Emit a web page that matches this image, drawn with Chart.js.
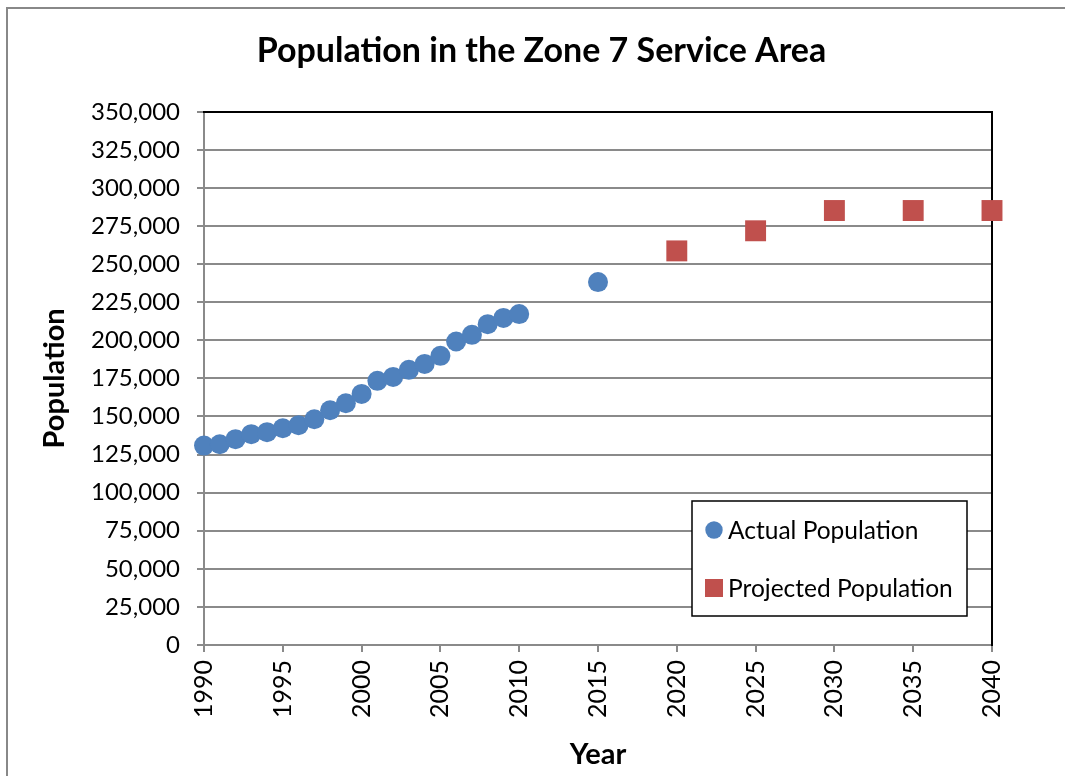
<!DOCTYPE html>
<html>
<head>
<meta charset="utf-8">
<script src="https://cdn.jsdelivr.net/npm/chart.js@4/dist/chart.umd.min.js"></script>
<style>
  html, body { margin: 0; padding: 0; background: #fff; overflow: hidden; }
  #wrap { position: relative; width: 1065px; height: 776px; }
</style>
</head>
<body>
<div id="wrap"><canvas id="popChart" width="1065" height="776"></canvas></div>
<script>
// Population values
const actualYears = [1990, 1991, 1992, 1993, 1994, 1995, 1996, 1997, 1998, 1999, 2000,
                     2001, 2002, 2003, 2004, 2005, 2006, 2007, 2008, 2009, 2010, 2015];
const actualPop = [130900, 131800, 135100, 138400, 139700, 142300, 144300, 148200, 154100, 158700, 164800,
                   173400, 176000, 180600, 184500, 189800, 199200, 203600, 210600, 214700, 217200, 238200];
const projectedYears = [2020, 2025, 2030, 2035, 2040];
const projectedPop = [258700, 271900, 285200, 285200, 285200];

const seriesNames = ['Actual Population', 'Projected Population'];
const BLUE = '#4F81BD';
const RED = '#C0504D';
const GRID = '#8a8a8a';
const FONT = 'Lato, "Open Sans", sans-serif';

const toPoints = (xs, ys) => xs.map((x, i) => ({ x: x, y: ys[i] }));

// gray frame around the whole chart
const framePlugin = {
    id: 'frame',
    beforeDraw(chart) {
        const ctx = chart.ctx;
        ctx.save();
        ctx.strokeStyle = '#888';
        ctx.lineWidth = 2;
        ctx.strokeRect(7, 8, 1100, 800);
        ctx.restore();
    }
};

// boxed legend sitting inside the plot area, bottom right
const boxLegend = {
    id: 'boxLegend',
    afterDraw(chart) {
        const ctx = chart.ctx;
        const x0 = 692, y0 = 501, w = 275, h = 115;
        ctx.save();
        ctx.fillStyle = '#fff';
        ctx.fillRect(x0, y0, w, h);
        ctx.strokeStyle = '#000';
        ctx.lineWidth = 1.5;
        ctx.strokeRect(x0, y0, w, h);
        ctx.font = '24.5px ' + FONT;
        ctx.textBaseline = 'middle';
        chart.data.datasets.forEach((ds, i) => {
            const cy = y0 + 29 + i * 58;
            ctx.fillStyle = ds.backgroundColor;
            if (ds.pointStyle === 'rect') {
                ctx.fillRect(x0 + 13, cy - 9, 18, 18);
            } else {
                ctx.beginPath();
                ctx.arc(x0 + 22, cy, 8.7, 0, Math.PI * 2);
                ctx.fill();
            }
            ctx.fillStyle = '#000';
            ctx.fillText(ds.label, x0 + 36, cy + 1);
        });
        ctx.restore();
    }
};

const ctx = document.getElementById('popChart').getContext('2d');
new Chart(ctx, {
    type: 'scatter',
    data: {
        datasets: [{
            label: seriesNames[0],
            data: toPoints(actualYears, actualPop),
            pointStyle: 'circle',
            pointRadius: 10,
            pointHoverRadius: 10,
            backgroundColor: BLUE,
            borderColor: BLUE,
            borderWidth: 0,
            clip: false
        }, {
            label: seriesNames[1],
            data: toPoints(projectedYears, projectedPop),
            pointStyle: 'rect',
            pointRadius: 14.8,
            pointHoverRadius: 14.8,
            backgroundColor: RED,
            borderColor: RED,
            borderWidth: 0,
            clip: false
        }]
    },
    options: {
        responsive: false,
        animation: false,
        devicePixelRatio: 1,
        layout: { padding: { left: 20, right: 2, top: 0, bottom: 0 } },
        plugins: {
            legend: { display: false },
            tooltip: { enabled: false },
            title: {
                display: true,
                text: 'Population in the Zone 7 Service Area',
                color: '#000',
                font: { family: FONT, size: 34, weight: 'bold' },
                padding: { top: 31, bottom: 40 }
            }
        },
        scales: {
            x: {
                type: 'linear',
                position: 'bottom',
                min: 1990,
                max: 2040,
                afterFit: s => { s.height = 131; },
                border: { color: GRID, width: 2 },
                grid: { drawOnChartArea: false, drawTicks: true, tickLength: 7, color: GRID, lineWidth: 2 },
                ticks: {
                    stepSize: 5,
                    minRotation: 90,
                    maxRotation: 90,
                    padding: 8,
                    color: '#000',
                    font: { family: FONT, size: 25 },
                    callback: v => String(v)
                },
                title: {
                    display: true,
                    text: 'Year',
                    color: '#000',
                    font: { family: FONT, size: 29, weight: 'bold' },
                    padding: { top: 0, bottom: 4 }
                }
            },
            y: {
                type: 'linear',
                position: 'left',
                min: 0,
                max: 350000,
                afterFit: s => { s.width = 184; },
                border: { color: GRID, width: 2 },
                grid: { color: GRID, lineWidth: 2, tickLength: 7 },
                ticks: {
                    stepSize: 25000,
                    padding: 17,
                    color: '#000',
                    font: { family: FONT, size: 24 },
                    callback: v => v.toLocaleString('en-US')
                },
                title: {
                    display: true,
                    text: 'Population',
                    color: '#000',
                    font: { family: FONT, size: 29, weight: 'bold' },
                    padding: { top: 17, bottom: 0 }
                }
            },
            // plot-area frame on the right and top (black)
            y2: {
                type: 'linear',
                position: 'right',
                afterFit: s => { s.width = 71; },
                border: { color: '#000', width: 2 },
                grid: { display: false },
                ticks: { display: false }
            },
            x2: {
                type: 'linear',
                position: 'top',
                afterFit: s => { s.height = 0; },
                border: { color: '#000', width: 2 },
                grid: { display: false },
                ticks: { display: false }
            }
        }
    },
    plugins: [framePlugin, boxLegend]
});
</script>
</body>
</html>
